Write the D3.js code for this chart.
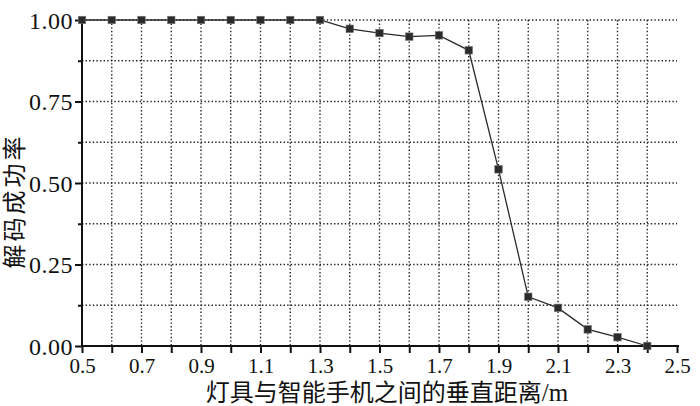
<!DOCTYPE html>
<html>
<head>
<meta charset="utf-8">
<script src="https://cdn.jsdelivr.net/npm/d3@7"></script>
<style>
  html, body { margin: 0; padding: 0; background: #fff; }
  svg { display: block; }
</style>
</head>
<body>
<svg id="chart" width="700" height="406"></svg>
<script>
// ---- data ----
const distances = [0.5, 0.6, 0.7, 0.8, 0.9, 1.0, 1.1, 1.2, 1.3, 1.4, 1.5, 1.6, 1.7, 1.8, 1.9, 2.0, 2.1, 2.2, 2.3, 2.4];
const successRate = [1.00, 1.00, 1.00, 1.00, 1.00, 1.00, 1.00, 1.00, 1.00, 0.973, 0.960, 0.949, 0.953, 0.907, 0.542, 0.151, 0.117, 0.051, 0.027, 0.00];
const xTickLabels = [0.5, 0.7, 0.9, 1.1, 1.3, 1.5, 1.7, 1.9, 2.1, 2.3, 2.5];
const xMinorTicks = [0.5, 0.6, 0.7, 0.8, 0.9, 1.0, 1.1, 1.2, 1.3, 1.4, 1.5, 1.6, 1.7, 1.8, 1.9, 2.0, 2.1, 2.2, 2.3, 2.4, 2.5];
const yTickLabels = [0.00, 0.25, 0.50, 0.75, 1.00];
const yMinorTicks = [0.125, 0.375, 0.625, 0.875];
const xGrid = [0.6, 0.7, 0.8, 0.9, 1.0, 1.1, 1.2, 1.3, 1.4, 1.5, 1.6, 1.7, 1.8, 1.9, 2.0, 2.1, 2.2, 2.3, 2.4];
const yGrid = [0.125, 0.25, 0.375, 0.5, 0.625, 0.75, 0.875, 1.0];
const xTitleCJK = "灯具与智能手机之间的垂直距离";
const xTitleUnit = "/m";
const yTitle = "解码成功率";

// ---- layout ----
const svg = d3.select("#chart");
const mLeft = 82, mRight = 677, mTop = 20, mBottom = 346;
const x = d3.scaleLinear().domain([0.5, 2.5]).range([mLeft, mRight]);
const y = d3.scaleLinear().domain([0, 1]).range([mBottom, mTop]);
const serif = "'Liberation Serif', 'Times New Roman', serif";
const cjk = "'Noto Sans CJK SC', sans-serif";

// grid
const grid = svg.append("g").attr("stroke", "#222").attr("stroke-width", 1.4)
  .attr("stroke-dasharray", "1.4,2.2").attr("fill", "none");
grid.selectAll("line.v").data(xGrid).join("line").attr("class", "v")
  .attr("x1", d => x(d)).attr("x2", d => x(d)).attr("y1", mTop).attr("y2", mBottom);
grid.selectAll("line.h").data(yGrid).join("line").attr("class", "h")
  .attr("x1", mLeft).attr("x2", mRight).attr("y1", d => y(d)).attr("y2", d => y(d));

// x axis
const xAxis = d3.axisBottom(x).tickValues(xMinorTicks).tickSize(7).tickSizeOuter(0)
  .tickFormat(d => xTickLabels.some(v => Math.abs(v - d) < 1e-9) ? d3.format(".1f")(d) : "");
const gx = svg.append("g").attr("transform", `translate(0,${mBottom})`).call(xAxis);
gx.select(".domain").attr("stroke", "#111").attr("stroke-width", 2).attr("d", `M${mLeft - 1},0H${mRight + 2}`);
gx.selectAll(".tick line").attr("stroke", "#111").attr("stroke-width", 2);
gx.selectAll(".tick text").attr("font-family", serif).attr("font-size", 21)
  .attr("fill", "#111").attr("y", 9).attr("dy", "0.85em");

// y axis
const yAxis = d3.axisLeft(y).tickValues(yTickLabels).tickSize(7).tickSizeOuter(0)
  .tickFormat(d3.format(".2f"));
const gy = svg.append("g").attr("transform", `translate(${mLeft},0)`).call(yAxis);
gy.select(".domain").attr("stroke", "#111").attr("stroke-width", 2).attr("d", `M0,${mTop - 2}V${mBottom + 1}`);
gy.selectAll(".tick line").attr("stroke", "#111").attr("stroke-width", 2);
gy.selectAll(".tick text").attr("font-family", serif).attr("font-size", 24)
  .attr("fill", "#111").attr("x", -9).attr("dy", "0.34em").attr("letter-spacing", "0.5px");
const gyMinor = svg.append("g").attr("transform", `translate(${mLeft},0)`)
  .call(d3.axisLeft(y).tickValues(yMinorTicks).tickSize(4).tickSizeOuter(0).tickFormat(""));
gyMinor.select(".domain").remove();
gyMinor.selectAll(".tick line").attr("stroke", "#111").attr("stroke-width", 2);

// line
svg.append("path")
  .datum(distances.map((d, i) => [d, successRate[i]]))
  .attr("fill", "none").attr("stroke", "#2a2a2a").attr("stroke-width", 1.3)
  .attr("d", d3.line().x(d => x(d[0])).y(d => y(d[1])));

// markers
const ms = 7.5;
svg.append("g").selectAll("rect").data(distances.map((d, i) => [d, successRate[i]])).join("rect")
  .attr("x", d => x(d[0]) - ms / 2).attr("y", d => y(d[1]) - ms / 2)
  .attr("width", ms).attr("height", ms)
  .attr("fill", "#2b2b2b").attr("stroke", "#777").attr("stroke-width", 0.6);

// titles
const xt = svg.append("text").attr("x", 387).attr("y", 401).attr("text-anchor", "middle")
  .attr("fill", "#111");
xt.append("tspan").attr("font-family", cjk).attr("font-size", 24).text(xTitleCJK);
xt.append("tspan").attr("font-family", serif).attr("font-size", 25).text(xTitleUnit);
svg.append("text").attr("transform", "translate(23,201) rotate(-90)").attr("text-anchor", "middle")
  .attr("font-family", cjk).attr("font-size", 24).attr("letter-spacing", "3px")
  .attr("fill", "#111").text(yTitle);
</script>
</body>
</html>
